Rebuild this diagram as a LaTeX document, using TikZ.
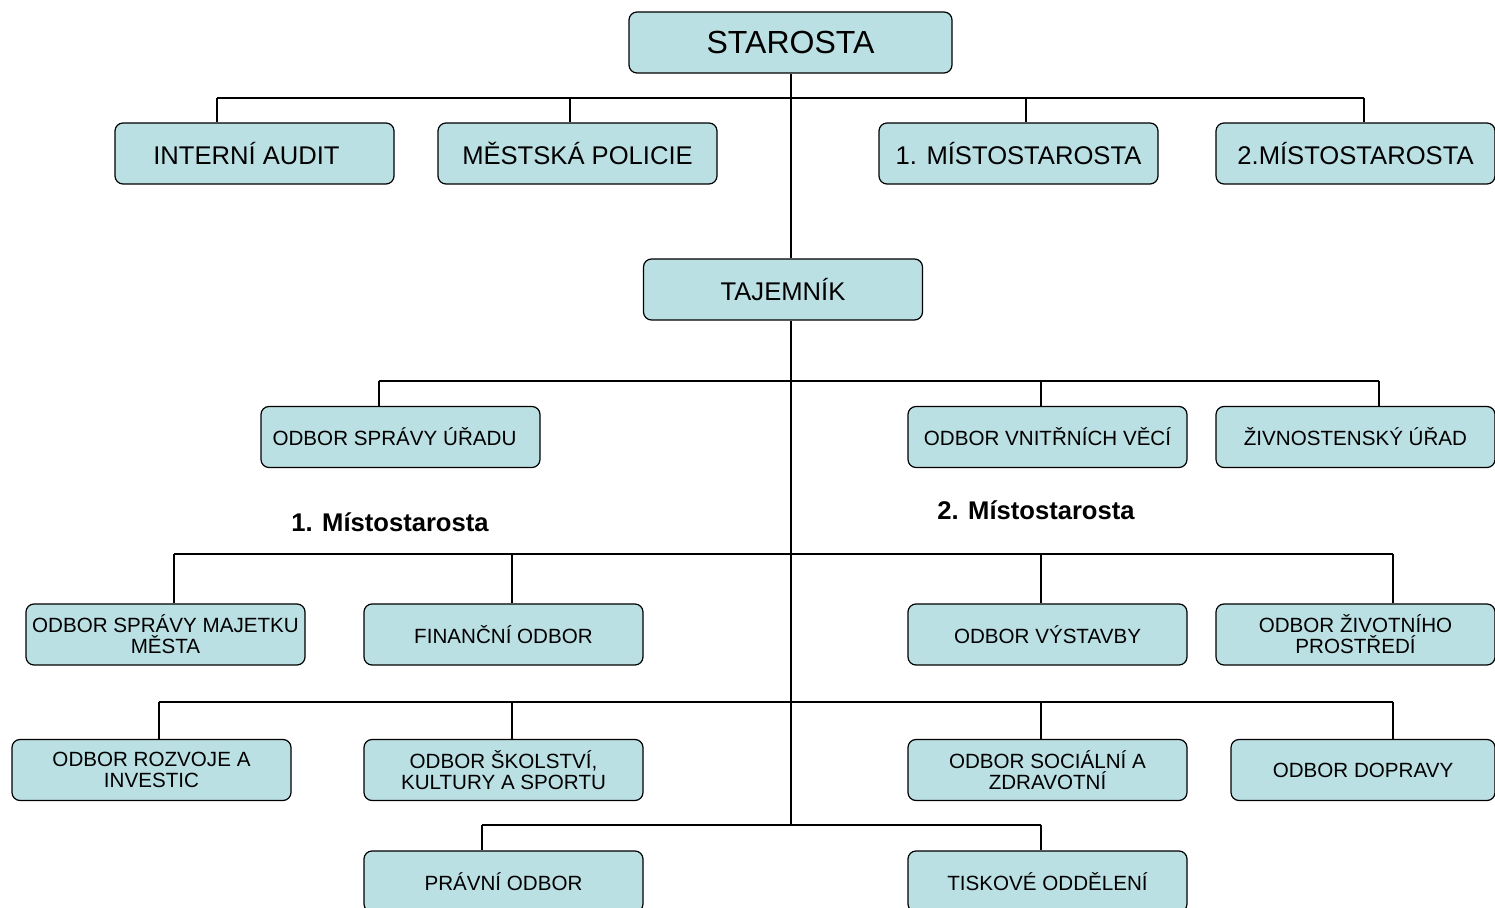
\documentclass[tikz,border=0pt]{standalone}
\usepackage{fontspec}
\setmainfont{Liberation Sans}
\definecolor{boxfill}{RGB}{187,224,228}
\begin{document}
\begin{tikzpicture}[x=0.5pt,y=-0.5pt,
  orgbox/.style={draw=black, line width=0.6pt, fill=boxfill, rounded corners=4pt,
    minimum width=139.5pt, minimum height=30.5pt, inner sep=0pt, align=center, font=\fontsize{10.3}{10.5}\selectfont},
  bigtext/.style={font=\fontsize{16}{17}\selectfont},
  midtext/.style={font=\fontsize{12.8}{14}\selectfont},
  conn/.style={line width=0.6pt, black},
  grouplabel/.style={font=\bfseries\fontsize{12.8}{14}\selectfont, inner sep=0pt}]
\useasboundingbox (0,0) rectangle (1495,908);
\clip (0,0) rectangle (1495,908);
% level 0
\node[orgbox, bigtext, minimum width=161.5pt] (starosta) at (790.5,42.5) {STAROSTA};
% level 1
\node[orgbox, midtext] (audit) at (254.5,153.5) {\hspace*{-8pt}INTERNÍ AUDIT};
\node[orgbox, midtext] (policie) at (577.5,153.5) {MĚSTSKÁ POLICIE};
\node[orgbox, midtext] (mist1) at (1018.5,153.5) {1. MÍSTOSTAROSTA};
\node[orgbox, midtext] (mist2) at (1355.5,153.5) {2.MÍSTOSTAROSTA};
\node[orgbox, midtext] (tajemnik) at (783,289.5) {TAJEMNÍK};
% level 2
\node[orgbox] (urad) at (400.5,437) {\hspace*{-6pt}ODBOR SPRÁVY ÚŘADU};
\node[orgbox] (vnitrni) at (1047.5,437) {ODBOR VNITŘNÍCH VĚCÍ};
\node[orgbox] (zivnost) at (1355.5,437) {ŽIVNOSTENSKÝ ÚŘAD};
\node[grouplabel] (lab1) at (390,522) {1. Místostarosta};
\node[grouplabel] (lab2) at (1036,510) {2. Místostarosta};
% level 3
\node[orgbox] (majetek) at (165.5,634.5) {ODBOR SPRÁVY MAJETKU\\MĚSTA};
\node[orgbox] (financni) at (503.5,634.5) {FINANČNÍ ODBOR};
\node[orgbox] (vystavba) at (1047.5,634.5) {ODBOR VÝSTAVBY};
\node[orgbox] (zivotni) at (1355.5,634.5) {ODBOR ŽIVOTNÍHO\\PROSTŘEDÍ};
% level 4
\node[orgbox] (rozvoj) at (151.5,770) {ODBOR ROZVOJE A\\INVESTIC};
\node[orgbox] (skolstvi) at (503.5,770) {ODBOR ŠKOLSTVÍ,\\KULTURY A SPORTU};
\node[orgbox] (socialni) at (1047.5,770) {ODBOR SOCIÁLNÍ A\\ZDRAVOTNÍ};
\node[orgbox, minimum width=132pt] (doprava) at (1363,770) {ODBOR DOPRAVY};
% level 5
\node[orgbox] (pravni) at (503.5,881.5) {PRÁVNÍ ODBOR};
\node[orgbox] (tisk) at (1047.5,881.5) {TISKOVÉ ODDĚLENÍ};
% bus coordinates
\coordinate (b1) at (791,98);
\coordinate (b2) at (791,381);
\coordinate (b3) at (791,554);
\coordinate (b4) at (791,702);
\coordinate (b5) at (791,825);
% connectors
\draw[conn] (starosta.south -| b1) -- (tajemnik.north -| b1);
\draw[conn] (tajemnik.south -| b2) -- (b5);
% level 1 bus
\draw[conn] (b1 -| 217,0) -- (b1 -| 1364,0);
\draw[conn] (b1 -| 217,0) -- (audit.north -| 217,0);
\draw[conn] (b1 -| 570,0) -- (policie.north -| 570,0);
\draw[conn] (b1 -| 1026,0) -- (mist1.north -| 1026,0);
\draw[conn] (b1 -| 1364,0) -- (mist2.north -| 1364,0);
% level 2 bus
\draw[conn] (b2 -| 379,0) -- (b2 -| 1379,0);
\draw[conn] (b2 -| 379,0) -- (urad.north -| 379,0);
\draw[conn] (b2 -| 1041,0) -- (vnitrni.north -| 1041,0);
\draw[conn] (b2 -| 1379,0) -- (zivnost.north -| 1379,0);
% level 3 bus
\draw[conn] (b3 -| 174,0) -- (b3 -| 1393,0);
\draw[conn] (b3 -| 174,0) -- (majetek.north -| 174,0);
\draw[conn] (b3 -| 512,0) -- (financni.north -| 512,0);
\draw[conn] (b3 -| 1041,0) -- (vystavba.north -| 1041,0);
\draw[conn] (b3 -| 1393,0) -- (zivotni.north -| 1393,0);
% level 4 bus
\draw[conn] (b4 -| 159,0) -- (b4 -| 1393,0);
\draw[conn] (b4 -| 159,0) -- (rozvoj.north -| 159,0);
\draw[conn] (b4 -| 512,0) -- (skolstvi.north -| 512,0);
\draw[conn] (b4 -| 1041,0) -- (socialni.north -| 1041,0);
\draw[conn] (b4 -| 1393,0) -- (doprava.north -| 1393,0);
% level 5 bus
\draw[conn] (b5 -| 482,0) -- (b5 -| 1041,0);
\draw[conn] (b5 -| 482,0) -- (pravni.north -| 482,0);
\draw[conn] (b5 -| 1041,0) -- (tisk.north -| 1041,0);
\end{tikzpicture}
\end{document}
